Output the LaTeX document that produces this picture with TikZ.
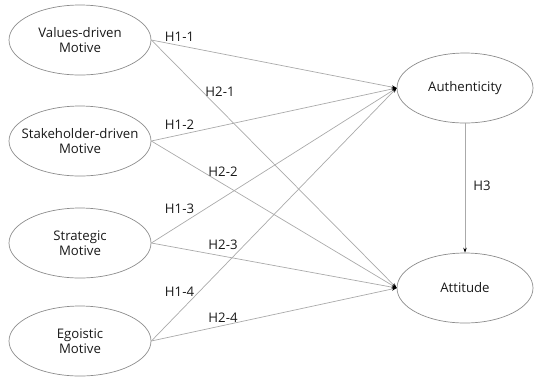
\documentclass[tikz,border=0pt]{standalone}
\usepackage{fontspec}
\setmainfont{Open Sans}
\usetikzlibrary{shapes.geometric,arrows.meta}
\definecolor{ellcol}{RGB}{140,140,140}
\definecolor{linecol}{RGB}{170,170,170}
\definecolor{txtcol}{RGB}{25,25,25}
\begin{document}
\begin{tikzpicture}[x=1pt,y=-1pt,
  construct/.style={ellipse,draw=ellcol,line width=0.7pt,minimum width=142pt,minimum height=70pt,inner xsep=-22pt,inner ysep=-8pt,align=center,font=\fontsize{13.2}{15}\selectfont,text=txtcol},
  path/.style={draw=linecol,line width=0.7pt,-{Stealth[length=5pt,width=3.5pt,black]}},
  hlab/.style={font=\fontsize{13.2}{15}\selectfont,text=txtcol,inner sep=0pt}]
\useasboundingbox (0,0) rectangle (534,376);
\node[construct] (vd) at (80,40) {Values-driven\\Motive};
\node[construct] (sd) at (80,141) {Stakeholder-driven\\Motive};
\node[construct] (st) at (80,243) {Strategic\\Motive};
\node[construct] (eg) at (80,341) {Egoistic\\Motive};
\node[construct,minimum width=136pt] (au) at (465,88) {Authenticity};
\node[construct,minimum width=136pt] (at) at (465,288) {Attitude};
\draw[path] (vd.east) -- (au.west);
\draw[path] (sd.east) -- (au.west);
\draw[path] (st.east) -- (au.west);
\draw[path] (eg.east) -- (au.west);
\draw[path] (vd.east) -- (at.west);
\draw[path] (sd.east) -- (at.west);
\draw[path] (st.east) -- (at.west);
\draw[path] (eg.east) -- (at.west);
\draw[path] (au.south) -- (at.north);
\node[hlab] (h11) at (179.5,37) {H1-1};
\node[hlab] (h21) at (220,92) {H2-1};
\node[hlab] (h12) at (179.5,125) {H1-2};
\node[hlab] (h22) at (223,172) {H2-2};
\node[hlab] (h13) at (179.5,209) {H1-3};
\node[hlab] (h23) at (223,245) {H2-3};
\node[hlab] (h14) at (179.5,292) {H1-4};
\node[hlab] (h24) at (223,318) {H2-4};
\node[hlab] (h3) at (482,186) {H3};
\end{tikzpicture}
\end{document}
